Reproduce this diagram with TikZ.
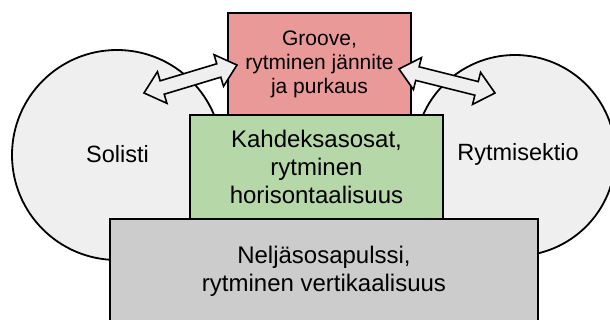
\documentclass[tikz,border=0pt]{standalone}
\usepackage{fontspec}
\setmainfont{Liberation Sans}
\definecolor{redfill}{HTML}{EA9999}
\definecolor{greenfill}{HTML}{B6D7A8}
\definecolor{grayfill}{HTML}{CCCCCC}
\definecolor{circfill}{HTML}{EFEFEF}
\begin{document}
\begin{tikzpicture}[x=1pt,y=1pt,
  blob/.style={circle, draw=black, line width=1.8pt, fill=circfill, inner sep=0pt, outer sep=0pt, minimum size=#1},
  layer/.style={draw=black, line width=1.8pt, inner sep=0pt, outer sep=0pt, align=center, font=\fontsize{24}{28}\selectfont},
  blockarrow/.style={draw=black, line width=1.6pt, fill=circfill, line join=miter},
  lbl/.style={font=\fontsize{23.5}{28}\selectfont, inner sep=0pt}]
\useasboundingbox (0,0) rectangle (610,-320);
\clip (0,0) rectangle (610,-320);
% circles
\node[blob=210] (sol) at (117,-155) {};
\node[blob=201] (ryt) at (515,-155.5) {};
\node[lbl] (soll) at (117.5,-154) {Solisti};
\node[lbl] (rytl) at (518,-154) {Rytmisektio};
% layers
\node[layer, fill=redfill, minimum width=183, minimum height=102, font=\fontsize{21}{24}\selectfont] (groove) at (319.5,-64) {Groove,\\rytminen jännite\\ja purkaus};
\node[layer, fill=greenfill, minimum width=253, minimum height=104] (kahd) at (316.5,-167) {Kahdeksasosat,\\rytminen\\horisontaalisuus};
\node[layer, fill=grayfill, minimum width=428, minimum height=104] (nelj) at (324,-271) {Neljäsosapulssi,\\rytminen vertikaalisuus};
% arrows
\coordinate (la) at (144,-93);
\coordinate (lb) at (237,-65);
\coordinate (ra) at (399,-69);
\coordinate (rb) at (495,-93);
\begin{scope}[shift={(la)}, rotate=16.76]
\draw[blockarrow] (0,0) -- (19,16.5) -- (19,7) -- (78.1,7) -- (78.1,16.5) -- (97.1,0) -- (78.1,-16.5) -- (78.1,-7) -- (19,-7) -- (19,-16.5) -- cycle;
\end{scope}
\begin{scope}[shift={(ra)}, rotate=-14.04]
\draw[blockarrow] (0,0) -- (19,16.5) -- (19,7) -- (79.95,7) -- (79.95,16.5) -- (98.95,0) -- (79.95,-16.5) -- (79.95,-7) -- (19,-7) -- (19,-16.5) -- cycle;
\end{scope}
\end{tikzpicture}
\end{document}
